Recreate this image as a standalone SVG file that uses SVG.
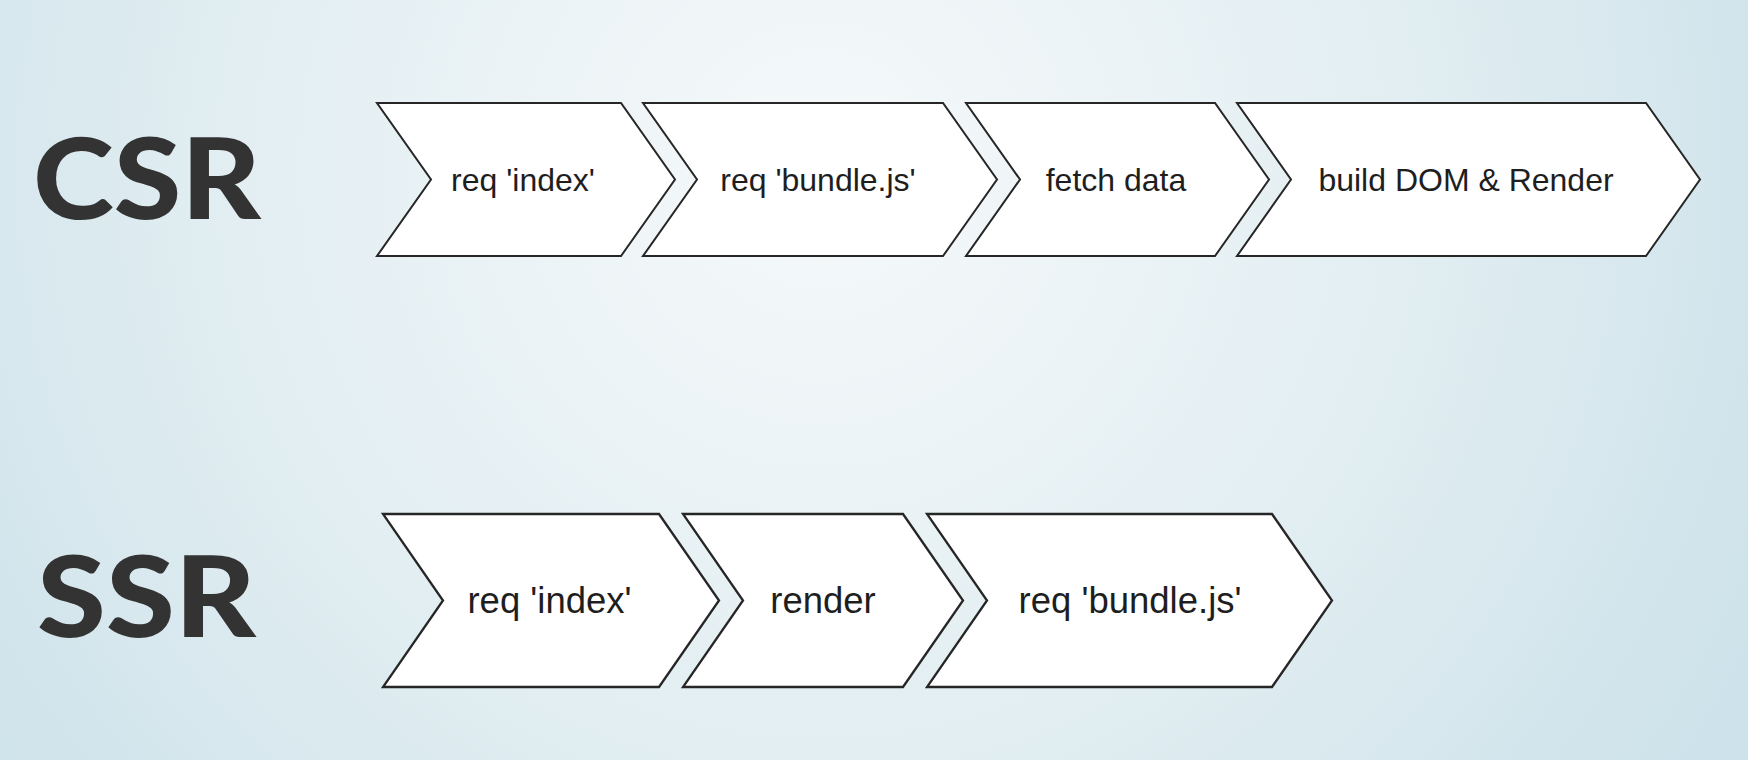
<svg xmlns="http://www.w3.org/2000/svg" width="1748" height="760" viewBox="0 0 1748 760">
  <defs>
    <radialGradient id="bg" cx="820" cy="170" r="1050" gradientUnits="userSpaceOnUse">
      <stop offset="0" stop-color="#f6f9fa"/>
      <stop offset="0.55" stop-color="#e2eef2"/>
      <stop offset="1" stop-color="#cde2ea"/>
    </radialGradient>
  </defs>
  <style>
    .step { fill: #ffffff; stroke: #262626; stroke-width: 2; stroke-linejoin: miter; }
    .ssr .step { stroke-width: 2.3; }
    .lbl { font-family: "Liberation Sans", Arial, sans-serif; fill: #1e1e1e; text-anchor: middle; }
    .csr .lbl { font-size: 32px; }
    .ssr .lbl { font-size: 36.5px; }
    .title { font-family: Lato, Inter, "Liberation Sans", sans-serif; font-weight: 900; fill: #333333; }
  </style>
  <rect x="0" y="0" width="1748" height="760" fill="url(#bg)"/>

  <text class="title" x="33" y="219" font-size="113" textLength="228" lengthAdjust="spacingAndGlyphs">CSR</text>
  <text class="title" x="37" y="637" font-size="113" textLength="219" lengthAdjust="spacingAndGlyphs">SSR</text>

  <g class="csr">
    <g id="csr-req-index">
      <polygon class="step" points="377,103 621,103 675,179.5 621,256 377,256 431,179.5"/>
      <text class="lbl" x="523" y="190.5">req 'index'</text>
    </g>
    <g id="csr-req-bundle">
      <polygon class="step" points="643,103 943,103 997,179.5 943,256 643,256 697,179.5"/>
      <text class="lbl" x="818" y="190.5">req 'bundle.js'</text>
    </g>
    <g id="csr-fetch-data">
      <polygon class="step" points="966,103 1215,103 1269,179.5 1215,256 966,256 1020,179.5"/>
      <text class="lbl" x="1116" y="190.5">fetch data</text>
    </g>
    <g id="csr-build-render">
      <polygon class="step" points="1237,103 1646,103 1700,179.5 1646,256 1237,256 1291,179.5"/>
      <text class="lbl" x="1466" y="190.5">build DOM &amp; Render</text>
    </g>
  </g>

  <g class="ssr">
    <g id="ssr-req-index">
      <polygon class="step" points="383,514 659,514 719,600.5 659,687 383,687 443,600.5"/>
      <text class="lbl" x="549.5" y="612.5">req 'index'</text>
    </g>
    <g id="ssr-render">
      <polygon class="step" points="683,514 903,514 963,600.5 903,687 683,687 743,600.5"/>
      <text class="lbl" x="823" y="612.5">render</text>
    </g>
    <g id="ssr-req-bundle">
      <polygon class="step" points="927,514 1272,514 1332,600.5 1272,687 927,687 987,600.5"/>
      <text class="lbl" x="1130" y="612.5">req 'bundle.js'</text>
    </g>
  </g>

  <g id="connectors"/>
</svg>
